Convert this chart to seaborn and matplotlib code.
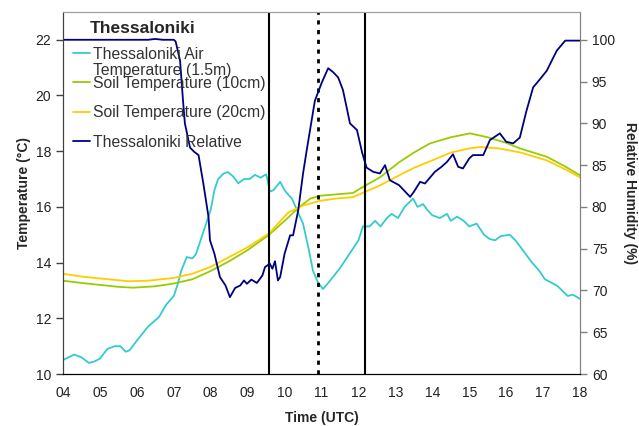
import pandas as pd
import matplotlib
matplotlib.use("Agg")
import matplotlib.pyplot as plt
import seaborn as sns

# Thessaloniki air / soil temperature and relative humidity, 04-18 UTC
air_time = [4.0, 4.15, 4.3, 4.5, 4.7, 4.85, 5.0, 5.2, 5.4, 5.55, 5.7, 5.8, 6.0, 6.3, 6.6, 6.8,
            7.0, 7.1, 7.2, 7.35, 7.5, 7.6, 7.75, 7.9, 8.0, 8.1, 8.2, 8.35, 8.47, 8.6, 8.75, 8.9,
            9.05, 9.2, 9.35, 9.5, 9.55, 9.6, 9.7, 9.88, 10.0, 10.06, 10.2, 10.33, 10.5, 10.65,
            10.77, 10.9, 11.04, 11.2, 11.35, 11.5, 11.7, 11.85, 12.0, 12.12, 12.3, 12.45, 12.6,
            12.77, 12.9, 13.07, 13.25, 13.48, 13.6, 13.75, 13.86, 14.0, 14.2, 14.4, 14.5, 14.67,
            14.85, 15.0, 15.2, 15.4, 15.55, 15.7, 15.85, 16.1, 16.25, 16.45, 16.7, 16.9, 17.05,
            17.2, 17.4, 17.55, 17.67, 17.8, 18.0]
air_temp = [10.5, 10.6, 10.7, 10.6, 10.4, 10.45, 10.55, 10.9, 11.0, 11.0, 10.8, 10.85, 11.2, 11.7,
            12.05, 12.5, 12.8, 13.2, 13.7, 14.2, 14.15, 14.3, 14.9, 15.5, 15.9, 16.6, 17.0, 17.2,
            17.25, 17.1, 16.85, 17.0, 17.0, 17.15, 17.05, 17.17, 16.9, 16.55, 16.6, 16.9, 16.6,
            16.5, 16.3, 15.9, 15.4, 14.5, 13.7, 13.3, 13.05, 13.3, 13.55, 13.8, 14.2, 14.5, 14.8,
            15.3, 15.3, 15.5, 15.3, 15.6, 15.75, 15.6, 16.0, 16.3, 16.0, 16.1, 15.9, 15.7, 15.6,
            15.75, 15.5, 15.65, 15.5, 15.3, 15.4, 15.0, 14.85, 14.8, 14.95, 15.0, 14.8, 14.45,
            14.0, 13.7, 13.4, 13.3, 13.15, 12.95, 12.8, 12.85, 12.7]

soil10_time = [4.0, 4.5, 5.0, 5.5, 5.9, 6.5, 7.0, 7.5, 8.0, 8.5, 9.0, 9.58, 10.0, 10.4, 10.7,
               10.96, 11.4, 11.85, 12.23, 12.58, 13.1, 13.5, 13.94, 14.5, 15.02, 15.5, 16.0,
               16.37, 17.1, 17.6, 18.0]
soil10_temp = [13.35, 13.27, 13.2, 13.13, 13.1, 13.15, 13.25, 13.4, 13.7, 14.05, 14.45, 15.0,
               15.5, 16.0, 16.3, 16.4, 16.45, 16.5, 16.8, 17.06, 17.6, 17.95, 18.28, 18.5, 18.64,
               18.5, 18.3, 18.1, 17.8, 17.45, 17.13]

soil20_time = [4.0, 4.5, 5.0, 5.8, 6.3, 7.0, 7.5, 8.0, 8.5, 9.0, 9.58, 10.1, 10.5, 10.96, 11.4,
               11.85, 12.2, 12.58, 13.1, 13.5, 14.0, 14.5, 15.0, 15.3, 15.8, 16.4, 17.1, 17.6, 18.0]
soil20_temp = [13.6, 13.5, 13.43, 13.33, 13.35, 13.45, 13.6, 13.85, 14.2, 14.55, 15.05, 15.8,
               16.05, 16.22, 16.3, 16.35, 16.55, 16.77, 17.13, 17.4, 17.67, 17.95, 18.1, 18.15,
               18.1, 17.95, 17.67, 17.35, 17.06]

rh_time = [4.0, 6.3, 6.5, 6.7, 7.0, 7.05, 7.17, 7.25, 7.3, 7.44, 7.55, 7.67, 7.8, 7.94, 7.98, 8.1,
           8.25, 8.4, 8.52, 8.66, 8.8, 8.9, 8.98, 9.1, 9.25, 9.4, 9.47, 9.6, 9.67, 9.74, 9.82,
           9.88, 10.0, 10.15, 10.23, 10.37, 10.5, 10.6, 10.82, 11.0, 11.18, 11.32, 11.45, 11.58,
           11.7, 11.77, 11.96, 12.1, 12.22, 12.4, 12.58, 12.72, 12.85, 13.1, 13.4, 13.5, 13.67,
           13.8, 14.07, 14.25, 14.4, 14.56, 14.7, 14.83, 15.0, 15.1, 15.38, 15.56, 15.83, 16.0,
           16.19, 16.37, 16.55, 16.73, 16.9, 17.1, 17.37, 17.6, 18.0]
rh_value = [100, 100, 100.1, 100, 100, 99.8, 97.5, 92.7, 90, 87.1, 86.6, 86.2, 82.8, 78.8, 76,
            74.4, 71.6, 70.6, 69.2, 70.3, 70.6, 71.2, 70.8, 71.3, 70.9, 71.8, 72.8, 73.2, 72.6,
            73.5, 71.2, 71.6, 74.4, 76.6, 76.6, 79.6, 84, 86.8, 92.7, 94.8, 96.6, 96.1, 95.5, 94,
            91.5, 90, 89.2, 86.5, 84.7, 84.2, 84, 85, 83.2, 82.6, 81.2, 81.8, 83, 82.8, 84.2,
            84.8, 85.4, 86.3, 84.8, 84.6, 85.8, 86.2, 86.2, 88, 88.8, 87.8, 87.6, 88.3, 91.5,
            94.3, 95.2, 96.3, 98.7, 99.9, 99.9]

event_times = [9.57, 10.9, 12.18]
hour_ticks = list(range(4, 19))
hour_labels = ["%02d" % h for h in hour_ticks]

sns.set_style("white")
plt.rcParams["font.family"] = ["Liberation Sans", "DejaVu Sans"]

fig = plt.figure(figsize=(6.39, 4.26), dpi=100)
ax = fig.add_axes([0.0986, 0.122, 0.8091, 0.85])
ax2 = ax.twinx()

air_df = pd.DataFrame({"time": air_time, "temp": air_temp})
s10_df = pd.DataFrame({"time": soil10_time, "temp": soil10_temp})
s20_df = pd.DataFrame({"time": soil20_time, "temp": soil20_temp})
rh_df = pd.DataFrame({"time": rh_time, "rh": rh_value})

lw = 1.3
sns.lineplot(data=air_df, x="time", y="temp", ax=ax, color="#33CCCC", lw=lw, estimator=None)
sns.lineplot(data=s10_df, x="time", y="temp", ax=ax, color="#99CC00", lw=lw, estimator=None)
sns.lineplot(data=s20_df, x="time", y="temp", ax=ax, color="#FFCC00", lw=lw, estimator=None)
sns.lineplot(data=rh_df, x="time", y="rh", ax=ax2, color="#000080", lw=lw, estimator=None)

# event markers
ax.axvline(event_times[0], color="black", lw=1.5)
ax.axvline(event_times[1], color="black", lw=2, linestyle=(0, (1.5, 2)))
ax.axvline(event_times[2], color="black", lw=1.5)

ax.set_xlim(4, 18)
ax.set_ylim(10, 23)
ax2.set_ylim(60, 60 + 13 * 40 / 12)
ax.set_xticks(hour_ticks)
ax.set_xticklabels(hour_labels)
ax.set_yticks([10, 12, 14, 16, 18, 20, 22])
ax2.set_yticks([60, 65, 70, 75, 80, 85, 90, 95, 100])

ax.set_xlabel("Time (UTC)", fontsize=10, fontweight="bold", labelpad=8)
ax.set_ylabel("Temperature (°C)", fontsize=10, fontweight="bold", labelpad=3)
ax2.set_ylabel("Relative Humidity (%)", fontsize=10, fontweight="bold", rotation=270, labelpad=16)

for a in (ax, ax2):
    a.tick_params(direction="out", length=5, width=1, labelsize=10, colors="#222222")
    a.spines["top"].set_color("#a0a0a0")
    a.spines["right"].set_color("#808080")
    a.spines["left"].set_color("#404040")
    a.spines["bottom"].set_color("#000000")
ax.tick_params(axis="y", color="#404040")
ax2.tick_params(axis="y", color="#808080")

handles = ax.get_lines()[:3] + ax2.get_lines()[:1]
labels = ["Thessaloniki Air", "Soil Temperature (10cm)", "Soil Temperature (20cm)",
          "Thessaloniki Relative"]
leg = ax2.legend(handles, labels, loc="upper left", bbox_to_anchor=(0.019, 0.904),
                 frameon=False, fontsize=11.3, handlelength=1.08, handletextpad=0.19,
                 labelspacing=0.91, borderpad=0, borderaxespad=0)
for t in leg.get_texts():
    t.set_color("#333333")
ax2.text(0.058, 0.837, "Temperature (1.5m)", transform=ax.transAxes, fontsize=11.3,
         color="#333333", va="center", ha="left")
ax2.text(0.052, 0.953, "Thessaloniki", transform=ax.transAxes, fontsize=12.5,
         fontweight="bold", va="center", ha="left")

fig.savefig("out.png", dpi=100)
